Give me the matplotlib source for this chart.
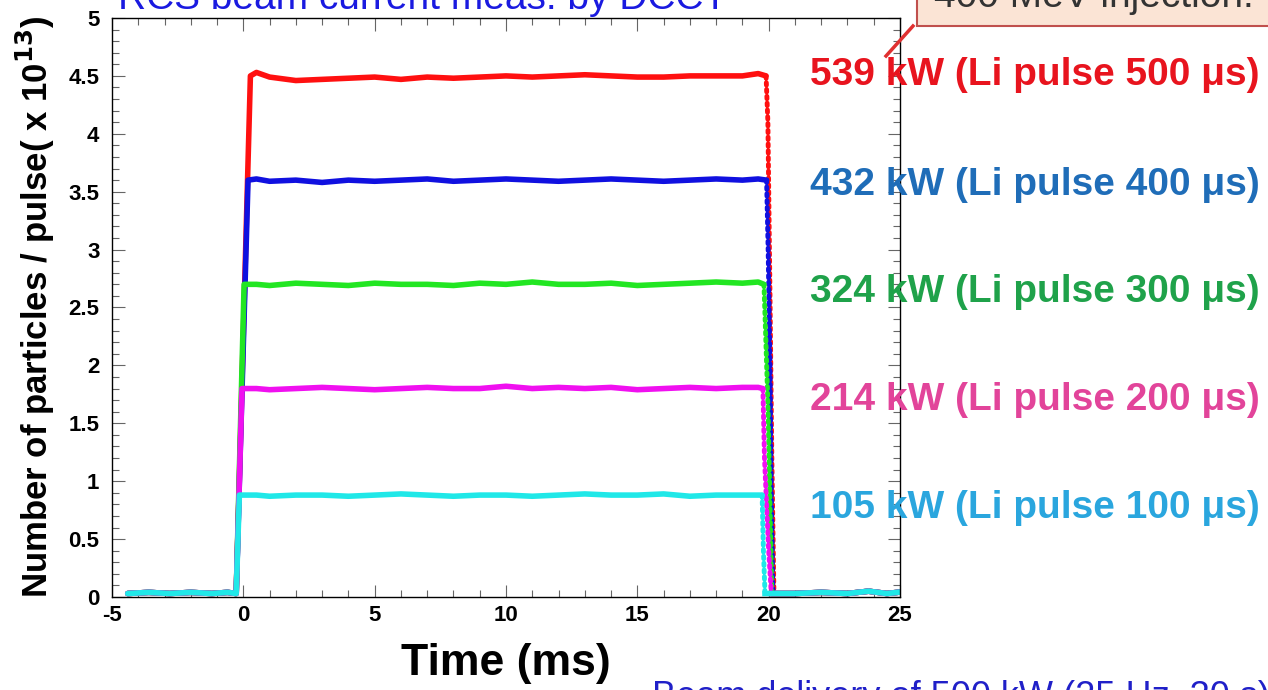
import matplotlib.pyplot as plt
from matplotlib.ticker import MultipleLocator, FuncFormatter
from matplotlib.patches import Rectangle
from matplotlib.lines import Line2D

plt.rcParams['font.family'] = ['Liberation Sans', 'DejaVu Sans']

# time knots (ms) shared by the flat tops
t_pre = [-4.4, -3.6, -2.8, -2.0, -1.2, -0.6, -0.27]
t_flat = [0.5, 1, 2, 3, 4, 5, 6, 7, 8, 9, 10, 11, 12, 13, 14, 15, 16, 17, 18, 19, 19.6]
t_post = [20.25, 21, 22, 23, 23.8, 24.5, 24.9]
base_pre = [0.03, 0.04, 0.03, 0.04, 0.03, 0.04, 0.03]
base_post = [0.03, 0.03, 0.04, 0.03, 0.05, 0.03, 0.04]

# rise top time, flat values, drop time and fall points for each pulse
red_top = (0.27, 4.50)
red_flat = [4.53, 4.49, 4.46, 4.47, 4.48, 4.49, 4.47, 4.49, 4.48, 4.49, 4.50,
            4.49, 4.50, 4.51, 4.50, 4.49, 4.49, 4.50, 4.50, 4.50, 4.52]
red_fall_t = [19.9, 19.97, 20.05, 20.12, 20.2]
red_fall_n = [4.50, 4.1, 2.6, 1.2, 0.03]

blue_top = (0.18, 3.60)
blue_flat = [3.61, 3.59, 3.60, 3.58, 3.60, 3.59, 3.60, 3.61, 3.59, 3.60, 3.61,
             3.60, 3.59, 3.60, 3.61, 3.60, 3.59, 3.60, 3.61, 3.60, 3.61]
blue_fall_t = [19.92, 19.98, 20.05, 20.1, 20.16]
blue_fall_n = [3.60, 3.0, 2.0, 0.9, 0.03]

green_top = (0.03, 2.70)
green_flat = [2.70, 2.69, 2.71, 2.70, 2.69, 2.71, 2.70, 2.70, 2.69, 2.71, 2.70,
              2.72, 2.70, 2.70, 2.71, 2.69, 2.70, 2.71, 2.72, 2.71, 2.72]
green_fall_t = [19.82, 19.88, 19.98, 20.05, 20.12]
green_fall_n = [2.70, 2.3, 1.6, 0.8, 0.03]

mag_top = (-0.05, 1.80)
mag_flat = [1.80, 1.79, 1.80, 1.81, 1.80, 1.79, 1.80, 1.81, 1.80, 1.80, 1.82,
            1.80, 1.81, 1.80, 1.81, 1.79, 1.80, 1.81, 1.80, 1.81, 1.81]
mag_fall_t = [19.78, 19.84, 19.92, 20.0, 20.1]
mag_fall_n = [1.80, 1.2, 0.8, 0.4, 0.03]

cyan_top = (-0.15, 0.88)
cyan_flat = [0.88, 0.87, 0.88, 0.88, 0.87, 0.88, 0.89, 0.88, 0.87, 0.88, 0.88,
             0.87, 0.88, 0.89, 0.88, 0.88, 0.89, 0.87, 0.88, 0.88, 0.88]
cyan_fall_t = [19.75, 19.8, 19.86]
cyan_fall_n = [0.88, 0.40, 0.03]

series = [
    (red_top, red_flat, red_fall_t, red_fall_n, '#ff1010'),
    (blue_top, blue_flat, blue_fall_t, blue_fall_n, '#1010e0'),
    (green_top, green_flat, green_fall_t, green_fall_n, '#22e622'),
    (mag_top, mag_flat, mag_fall_t, mag_fall_n, '#f010f0'),
    (cyan_top, cyan_flat, cyan_fall_t, cyan_fall_n, '#20e8e8'),
]

labels = ['539 kW (Li pulse 500 \u03bcs)', '432 kW (Li pulse 400 \u03bcs)',
          '324 kW (Li pulse 300 \u03bcs)', '214 kW (Li pulse 200 \u03bcs)',
          '105 kW (Li pulse 100 \u03bcs)']
label_colors = ['#e8141e', '#1f6db8', '#1fa24a', '#e2449a', '#2aa6de']

fig = plt.figure(figsize=(12.68, 6.9), dpi=100)
ax = fig.add_axes([0.0883, 0.1348, 0.6215, 0.8391])

for top, flat, ft, fn, c in series:
    xs = t_pre + [top[0]] + t_flat + [ft[0]]
    ys = base_pre + [top[1]] + flat + [fn[0]]
    ax.plot(xs, ys, color=c, lw=4, solid_capstyle='round', solid_joinstyle='round')
    ax.plot(ft, fn, color=c, lw=3.5, linestyle=(0, (0.5, 0.9)), dash_capstyle='round')
    ax.plot([ft[-1]] + t_post, [fn[-1]] + base_post, color=c, lw=4)

ax.set_xlim(-5, 25)
ax.set_ylim(0, 5)
ax.xaxis.set_major_locator(MultipleLocator(5))
ax.xaxis.set_minor_locator(MultipleLocator(1))
ax.yaxis.set_major_locator(MultipleLocator(0.5))
ax.yaxis.set_minor_locator(MultipleLocator(0.1))
fmt = FuncFormatter(lambda v, p: '%g' % v)
ax.xaxis.set_major_formatter(fmt)
ax.yaxis.set_major_formatter(fmt)
ax.tick_params(which='both', direction='in', top=True, right=True,
               labelsize=16, width=0.8, color='#666666')
ax.tick_params(which='major', length=9)
ax.tick_params(which='minor', length=5)
ax.tick_params(axis='y', pad=9)
ax.tick_params(axis='x', pad=6)
for lab in ax.get_xticklabels() + ax.get_yticklabels():
    lab.set_fontweight('bold')
for s in ax.spines.values():
    s.set_linewidth(1.0)

ax.set_xlabel('Time (ms)', fontsize=32, fontweight='bold', labelpad=12)
ax.set_ylabel('Number of particles / pulse( x 10$^{\\mathbf{13}}$)', fontsize=25,
              fontweight='bold', labelpad=8)

ys_lab = [75, 185, 292, 400, 508]
for txt, col, yp in zip(labels, label_colors, ys_lab):
    fig.text(810 / 1268, 1 - yp / 690, txt, color=col, fontsize=28,
             fontweight='bold', va='center', ha='left')

# cropped slide elements
fig.text(118 / 1268, 1 - 9 / 690, 'RCS beam current meas. by DCCT', color='#1a1ae0',
         fontsize=28, va='baseline', ha='left')
fig.patches.append(Rectangle((917 / 1268, 1 - 26 / 690), 0.4, 0.2, transform=fig.transFigure,
                             facecolor='#fbe4d5', edgecolor='#c0504d', lw=1.5, figure=fig))
fig.text(934 / 1268, 1 - 7 / 690, '400 MeV injection.', color='#333333',
         fontsize=28, va='baseline', ha='left')
fig.lines.append(Line2D([913 / 1268, 886 / 1268], [1 - 26 / 690, 1 - 56 / 690],
                        transform=fig.transFigure, color='#e03030', lw=2.5, figure=fig))
fig.text(652 / 1268, 1 - 680 / 690, 'Beam delivery of 500 kW (25 Hz, 30 s)', color='#2020c8',
         fontsize=26, va='top', ha='left')

fig.savefig('out.png', dpi=100)
